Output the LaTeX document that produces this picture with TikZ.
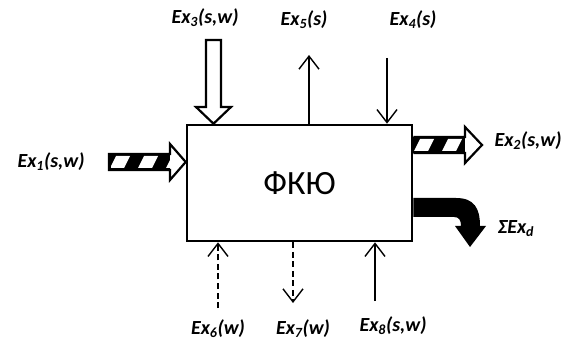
\documentclass[tikz,border=0pt]{standalone}
\usepackage{fontspec}
\setmainfont{Carlito}
\usetikzlibrary{arrows.meta}
\tikzset{
  lbl/.style={inner sep=0pt, font=\fontsize{20}{23}\selectfont\bfseries\itshape},
  thinarrow/.style={line width=1.4pt, -{Straight Barb[length=13pt,width=20pt,line width=1.4pt]}},
  dasharrow/.style={thinarrow, dash pattern=on 6pt off 3.5pt},
  outl/.style={line width=2.2pt, line join=miter},
}
\begin{document}
\begin{tikzpicture}[x=1pt,y=-1pt]
\useasboundingbox (0,0) rectangle (571,342);
% main box
\node[draw, line width=2.6pt, minimum width=225pt, minimum height=116pt, inner sep=0pt,
      font=\fontsize{34}{40}\selectfont] (box) at (299.5,183) {ФКЮ};

% labels
\node[lbl] (l1) at (51,162) {Ex\textsubscript{1}(s,w)};
\node[lbl] (l2) at (528,141) {Ex\textsubscript{2}(s,w)};
\node[lbl] (l3) at (205,18) {Ex\textsubscript{3}(s,w)};
\node[lbl] (l5) at (304,20) {Ex\textsubscript{5}(s)};
\node[lbl] (l4) at (413,20) {Ex\textsubscript{4}(s)};
\node[lbl] (ld) at (516,229) {ΣEx\textsubscript{d}};
\node[lbl] (l6) at (218,329) {Ex\textsubscript{6}(w)};
\node[lbl] (l7) at (303,329) {Ex\textsubscript{7}(w)};
\node[lbl] (l8) at (393,326) {Ex\textsubscript{8}(s,w)};

% Ex1 hatched arrow
\fill[white] (109,154) -- (170,154) -- (170,144) -- (186,162) -- (170,180) -- (170,170) -- (109,170) -- cycle;
\fill (109,154) rectangle (170,170);
\begin{scope}
\clip (111,156) rectangle (170,168);
\foreach \x in {116,144,172} {
  \fill[white] (\x,156) -- (\x+14,156) -- (\x+8,168) -- (\x-6,168) -- cycle;
}
\end{scope}
\draw[outl] (109,154) -- (170,154) -- (170,144) -- (box.west |- 0,162) -- (170,180) -- (170,170) -- (109,170) -- cycle;

% Ex2 hatched arrow
\fill (box.east |- 0,137) rectangle (465,153);
\begin{scope}
\clip (box.east |- 0,139) rectangle (465,151);
\foreach \x in {420,448} {
  \fill[white] (\x,139) -- (\x+14,139) -- (\x+8,151) -- (\x-6,151) -- cycle;
}
\end{scope}
\draw[outl] (box.east |- 0,137) -- (465,137) -- (465,127) -- (482,145) -- (465,163) -- (465,153) -- (box.east |- 0,153);

% Ex3 hollow arrow
\draw[outl] (206,40) -- (221,40) -- (221,107) -- (231,107) -- (box.north -| 213.5,0) -- (196,107) -- (206,107) -- cycle;

% Sigma Ex_d bent thick arrow
\fill (box.east |- 0,198) -- (456,198) .. controls (474,198) and (480,208) .. (480,226)
  -- (486,226) -- (470,247) -- (455,226) -- (461,226) .. controls (461,220) and (459,217) .. (454,217)
  -- (box.east |- 0,217) -- cycle;

% thin arrows top
\coordinate (t5) at (309,55);
\draw[thinarrow] (box.north -| t5) -- (t5);
\coordinate (t4) at (387,58);
\draw[thinarrow] (t4) -- (box.north -| t4);

% bottom arrows
\coordinate (b6) at (218,308);
\draw[dasharrow] (b6) -- (box.south -| b6);
\coordinate (b7) at (293,303);
\draw[dasharrow] (box.south -| b7) -- (b7);
\coordinate (b8) at (375,301);
\draw[thinarrow] (b8) -- (box.south -| b8);
\end{tikzpicture}
\end{document}
